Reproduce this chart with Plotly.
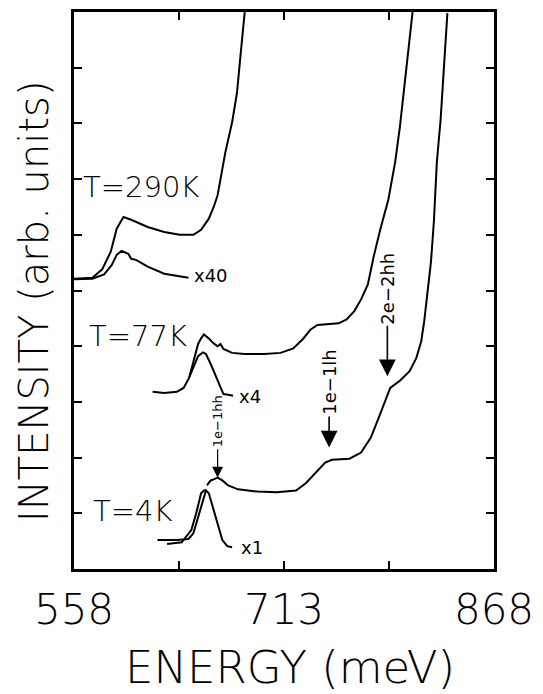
import plotly.graph_objects as go

# ---- data (energy in meV, intensity in arb. units) ----
e_290_main = [558.0, 571.6, 578.8, 585.2, 589.5, 594.5, 600.2, 612.4, 624.6, 636.0, 646.1,
              651.8, 657.5, 661.1, 664.0, 666.1, 669.7, 674.7, 678.3, 680.4, 682.6, 684.0]
i_290_main = [5.21, 5.23, 5.38, 5.70, 6.11, 6.32, 6.27, 6.14, 6.05, 6.00, 6.00,
              6.09, 6.29, 6.50, 6.71, 7.00, 7.48, 8.02, 8.55, 9.09, 9.63, 10.0]

e_290_x40 = [558.0, 571.6, 580.2, 585.9, 589.5, 593.1, 598.1, 600.2, 603.8, 612.4, 624.6, 636.0, 642.5]
i_290_x40 = [5.20, 5.21, 5.29, 5.46, 5.64, 5.71, 5.66, 5.57, 5.55, 5.43, 5.30, 5.25, 5.23]

e_77_main = [643.2, 646.1, 649.6, 651.8, 653.9, 657.5, 661.1, 664.0, 666.1, 668.3, 674.7, 684.0,
             698.3, 710.5, 719.8, 727.0, 732.7, 737.7, 744.9, 753.4, 759.2, 764.9, 769.9,
             774.9, 779.2, 784.2, 790.0, 795.0, 798.5, 801.4, 804.3, 807.9]
i_77_main = [3.45, 3.73, 4.04, 4.14, 4.21, 4.14, 4.05, 4.00, 4.04, 3.95, 3.88, 3.86,
             3.86, 3.88, 3.96, 4.13, 4.30, 4.38, 4.39, 4.41, 4.48, 4.63, 4.84,
             5.11, 5.61, 6.11, 6.63, 7.30, 7.93, 8.55, 9.27, 10.0]

e_77_x4 = [616.0, 624.6, 633.9, 638.9, 642.5, 646.1, 649.6, 653.2, 655.4, 658.9, 662.5,
           666.1, 668.3, 671.8, 675.4]
i_77_x4 = [3.18, 3.16, 3.18, 3.25, 3.41, 3.61, 3.82, 3.89, 3.86, 3.68, 3.46,
           3.25, 3.14, 3.13, 3.11]

e_4_main = [656.1, 658.9, 661.1, 664.0, 667.5, 671.8, 679.0, 693.3, 707.6, 721.9, 729.1,
            736.3, 743.4, 748.4, 761.3, 769.9, 777.1, 782.8, 787.8, 791.4, 798.5, 805.7,
            810.7, 814.3, 816.5, 818.6, 821.5, 823.6, 825.8, 828.6, 830.8, 833.6]
i_4_main = [1.50, 1.59, 1.61, 1.64, 1.59, 1.50, 1.43, 1.39, 1.38, 1.41, 1.54,
            1.73, 1.91, 1.96, 1.98, 2.09, 2.36, 2.71, 3.02, 3.25, 3.38, 3.55,
            3.79, 4.09, 4.45, 4.93, 5.52, 6.23, 7.30, 8.07, 8.96, 9.98]

e_4_x1a = [619.6, 633.9, 642.5, 646.1, 649.6, 653.2, 655.4, 657.5, 660.4, 664.0, 667.5, 671.1, 674.7]
i_4_x1a = [0.52, 0.52, 0.54, 0.64, 0.93, 1.23, 1.41, 1.36, 1.11, 0.79, 0.52, 0.41, 0.39]

e_4_x1b = [626.7, 637.5, 644.6, 648.2, 651.8, 653.9, 655.4]
i_4_x1b = [0.45, 0.48, 0.70, 1.00, 1.36, 1.41, 1.41]

x_tick_vals = [558, 635.5, 713, 790.5, 868]
x_tick_text = ["558", "", "713", "", "868"]
y_tick_vals = [1, 2, 3, 4, 5, 6, 7, 8, 9]

# temperature labels: (text, energy, intensity)
temp_labels = [("T=290K", 607.1, 6.86), ("T=77K", 604.9, 4.18), ("T=4K", 601.3, 1.04)]
scale_labels = [("x40", 659.0, 5.27), ("x4", 687.6, 3.09), ("x1", 689.7, 0.39)]
# transitions: (text, tip energy, tip intensity, text offset px, font size)
transitions = [("1e\u22121hh", 664.0, 1.64, -56, 13),
               ("1e\u22121lh", 746.3, 2.18, -65, 18),
               ("2e\u22122hh", 789.3, 3.46, -88, 18)]

FONT = "DejaVu Sans"

fig = go.Figure()
line = dict(color="black", width=2)
for ex, iy in [(e_290_main, i_290_main), (e_290_x40, i_290_x40), (e_77_main, i_77_main),
               (e_77_x4, i_77_x4), (e_4_main, i_4_main), (e_4_x1a, i_4_x1a), (e_4_x1b, i_4_x1b)]:
    fig.add_trace(go.Scatter(x=ex, y=iy, mode="lines", line=line, showlegend=False,
                             hoverinfo="skip"))

lab_font = dict(family=FONT, size=29, color="black", weight=300)
for t, ex, iy in temp_labels:
    fig.add_annotation(x=ex, y=iy, text=t, showarrow=False, font=lab_font)
for t, ex, iy in scale_labels:
    fig.add_annotation(x=ex, y=iy, text=t, showarrow=False,
                       font=dict(family=FONT, size=18, color="black"))
for t, ex, iy, off, fs in transitions:
    fig.add_annotation(x=ex, y=iy, text=t, textangle=-90, showarrow=True,
                       ax=0, ay=off, arrowhead=2, arrowwidth=1.6 if fs > 15 else 1.2,
                       arrowsize=2.1 if fs > 15 else 1.8, arrowcolor="black",
                       font=dict(family=FONT, size=fs, color="black"))

fig.add_annotation(xref="paper", yref="paper", x=0.515, y=-0.176, xanchor="center",
                   yanchor="middle", text="ENERGY (meV)", showarrow=False,
                   font=dict(family=FONT, size=45, color="black", weight=200))
fig.add_annotation(xref="paper", yref="paper", x=-0.097, y=0.480, xanchor="center",
                   yanchor="middle", text="INTENSITY (arb. units)",
                   textangle=-90, showarrow=False,
                   font=dict(family=FONT, size=40, color="black", weight=200))

axis_common = dict(showgrid=False, zeroline=False, showline=True, linecolor="black",
                   linewidth=3, mirror="ticks", ticks="inside", ticklen=8, tickwidth=1.5,
                   tickcolor="black")
fig.update_xaxes(range=[558, 868], tickvals=x_tick_vals, ticktext=x_tick_text,
                 tickfont=dict(family=FONT, size=42, color="black", weight=200),
                 ticklabelstandoff=2, ticklabeloverflow="allow", **axis_common)
fig.update_yaxes(range=[0, 10], tickvals=y_tick_vals, showticklabels=False, **axis_common)

fig.update_layout(width=543, height=694, margin=dict(l=74, r=36, t=9, b=125),
                  plot_bgcolor="white", paper_bgcolor="white")
fig.write_html("out.html")
